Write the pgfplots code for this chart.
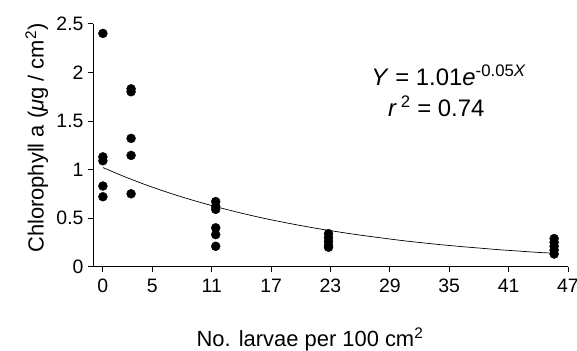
\documentclass[border=0pt]{standalone}
\usepackage{fontspec}
\setmainfont{Liberation Sans}
\usepackage{pgfplots}
\pgfplotsset{compat=1.18}
\begin{document}
\begin{tikzpicture}
\begin{axis}[
  scale only axis,
  width=475bp, height=243bp,
  xmin=-1, xmax=47, ymin=0, ymax=2.5,
  axis lines=left,
  axis line style={-, line width=0.9pt},
  xtick={0,5,11,17,23,29,35,41,47},
  ytick={0,0.5,1,1.5,2,2.5},
  tick align=outside,
  major tick length=5bp,
  tick style={line width=0.8pt, black},
  /pgf/number format/assume math mode=true,
  ticklabel style={font=\fontsize{19.5}{22}\selectfont},
  yticklabel style={xshift=-1bp},
  xticklabel style={yshift=-4bp},
  clip=false,
]
\addplot[only marks, mark=*, mark size=4.5pt, black] coordinates {
(0,2.40) (0,1.13) (0,1.09) (0,0.83) (0,0.72)
(2.85,1.83) (2.85,1.80) (2.85,1.32) (2.85,1.145) (2.85,0.75)
(11.4,0.67) (11.4,0.62) (11.4,0.59) (11.4,0.40) (11.4,0.33) (11.4,0.21)
(22.8,0.34) (22.8,0.30) (22.8,0.26) (22.8,0.22) (22.8,0.20)
(45.6,0.29) (45.6,0.25) (45.6,0.21) (45.6,0.17) (45.6,0.13)
};
\addplot[black, line width=0.7pt, smooth] coordinates {
(0,1.02) (2,0.934) (4,0.855) (6,0.783) (8,0.717) (10,0.657) (12,0.602)
(14,0.551) (16,0.504) (18,0.462) (20,0.423) (22,0.387) (24,0.355)
(26,0.325) (28,0.298) (30,0.272) (32,0.249) (34,0.228) (36,0.209)
(38,0.192) (40,0.175) (42,0.161) (44,0.147) (45.6,0.139)
};
\node[anchor=base west, inner sep=0pt, font=\fontsize{24}{28}\selectfont] at (axis cs:27.1,1.86) {\textit{Y} = 1.01\textit{e}\textsuperscript{-0.05\textit{X}}};
\node[anchor=base west, inner sep=0pt, font=\fontsize{24}{28}\selectfont] at (axis cs:28.8,1.545) {\textit{r}\,\textsuperscript{2} = 0.74};
\path (rel axis cs:0.436,0) ++(0,-79.3bp) node[anchor=base, font=\fontsize{22}{26}\selectfont] {No. larvae per 100 cm\textsuperscript{2}};
\path (rel axis cs:0,0.529) ++(-66bp,0) node[rotate=90, anchor=center, font=\fontsize{22}{26}\selectfont] {Chlorophyll a (\textit{μ}g / cm\textsuperscript{2})};
\end{axis}
\pgfresetboundingbox
\useasboundingbox (-93bp,-84.3bp) rectangle (484bp,266.7bp);
\end{tikzpicture}
\end{document}
